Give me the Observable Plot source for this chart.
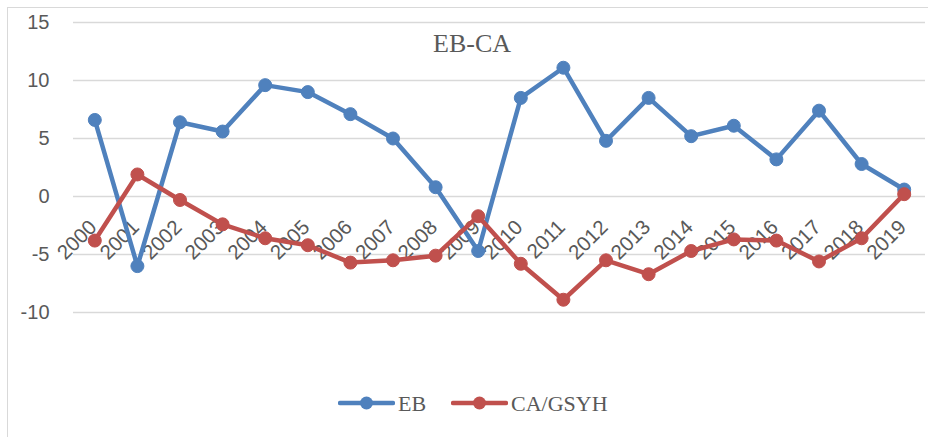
<!DOCTYPE html>
<html>
<head>
<meta charset="utf-8">
<script src="https://cdn.jsdelivr.net/npm/d3@7"></script>
<script src="https://cdn.jsdelivr.net/npm/@observablehq/plot@0.6"></script>
<style>
  html, body { margin: 0; padding: 0; background: #fff; }
  #wrap { position: relative; width: 928px; height: 437px; overflow: hidden; background: #fff; }
  #frame { position: absolute; left: 7px; top: 7px; right: -5px; bottom: -5px;
           border-left: 1.5px solid #d9d9d9; border-top: 1.5px solid #d9d9d9; pointer-events: none; }
  #title { position: absolute; top: 31px; left: 472px; transform: translateX(-50%);
           font: 26px/26px "Liberation Serif", "Times New Roman", serif; color: #595959; white-space: nowrap; }
  #legend { position: absolute; top: 380px; left: 0; width: 928px; height: 57px; }
  .item { position: absolute; top: 13px; display: flex; align-items: center; height: 20px; }
  .item span { font: 22px/22px "Liberation Serif", "Times New Roman", serif; color: #595959; margin-left: 3px; position: relative; top: 1px; }
  #chart { position: absolute; left: 0; top: 0; }
</style>
</head>
<body>
<div id="wrap">
  <div id="chart"></div>
  <div id="frame"></div>
  <div id="title"></div>
  <div id="legend"></div>
</div>
<script>
const title = "EB-CA";
const years = [2000, 2001, 2002, 2003, 2004, 2005, 2006, 2007, 2008, 2009,
               2010, 2011, 2012, 2013, 2014, 2015, 2016, 2017, 2018, 2019];
const seriesNames = ["EB", "CA/GSYH"];
const seriesColors = ["#4F81BD", "#C0504D"];
const ebValues = [6.6, -6.0, 6.4, 5.6, 9.6, 9.0, 7.1, 5.0, 0.8, -4.7,
                  8.5, 11.1, 4.8, 8.5, 5.2, 6.1, 3.2, 7.4, 2.8, 0.6];
const caValues = [-3.8, 1.9, -0.3, -2.4, -3.6, -4.2, -5.7, -5.5, -5.1, -1.7,
                  -5.8, -8.9, -5.5, -6.7, -4.7, -3.7, -3.8, -5.6, -3.6, 0.2];
const yTicks = [-10, -5, 0, 5, 10, 15];

const ebData = years.map((y, i) => ({year: y, value: ebValues[i]}));
const caData = years.map((y, i) => ({year: y, value: caValues[i]}));
const textColor = "#595959";
const font = "'Liberation Sans', Arial, sans-serif";

const plot = Plot.plot({
  width: 928,
  height: 380,
  marginTop: 22,
  marginBottom: 68,
  marginLeft: 73,
  marginRight: 3,
  style: {fontFamily: font, color: textColor, background: "transparent", overflow: "visible"},
  x: {type: "linear", domain: [years[0] - 0.5, years[years.length - 1] + 0.5], axis: null},
  y: {domain: [-10, 15], axis: null},
  marks: [
    Plot.ruleY(yTicks, {stroke: "#d9d9d9", strokeWidth: 1.5}),
    Plot.axisY({ticks: yTicks, label: null, tickSize: 0, tickPadding: 24, fontSize: 20, fill: textColor,
      tickFormat: d => String(d)}),
    Plot.text(years, {x: d => d, y: () => 0, text: d => String(d), rotate: -45,
      textAnchor: "end", lineAnchor: "bottom", dx: 3, dy: 32, fontSize: 20.5, fill: textColor}),
    Plot.line(ebData, {x: "year", y: "value", stroke: seriesColors[0], strokeWidth: 4.5,
      strokeLinejoin: "round", strokeLinecap: "round"}),
    Plot.dot(ebData, {x: "year", y: "value", r: 6.5, fill: seriesColors[0], stroke: seriesColors[0], strokeWidth: 1}),
    Plot.line(caData, {x: "year", y: "value", stroke: seriesColors[1], strokeWidth: 4.5,
      strokeLinejoin: "round", strokeLinecap: "round"}),
    Plot.dot(caData, {x: "year", y: "value", r: 6.5, fill: seriesColors[1], stroke: seriesColors[1], strokeWidth: 1})
  ]
});
document.getElementById("chart").appendChild(plot);
document.getElementById("title").textContent = title;

// legend
const legend = document.getElementById("legend");
const legendLefts = [338, 451];
seriesNames.forEach((name, i) => {
  const item = document.createElement("div");
  item.className = "item";
  item.style.left = legendLefts[i] + "px";
  item.innerHTML = `<svg width="57" height="20"><line x1="2" y1="10" x2="55" y2="10" stroke="${seriesColors[i]}" stroke-width="4.5" stroke-linecap="round"/><circle cx="28.5" cy="10" r="6.5" fill="${seriesColors[i]}"/></svg><span></span>`;
  item.querySelector("span").textContent = name;
  legend.appendChild(item);
});
</script>
</body>
</html>
